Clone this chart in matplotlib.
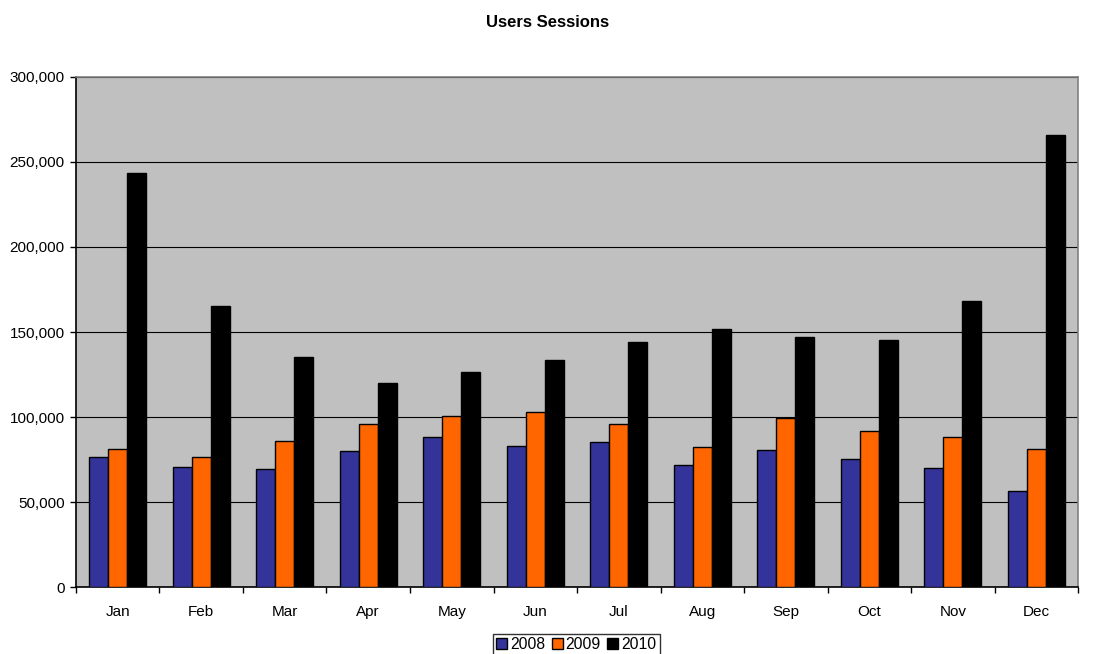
import numpy as np
import matplotlib
matplotlib.use("Agg")
import matplotlib.pyplot as plt
from matplotlib.ticker import FuncFormatter, MultipleLocator

# Data
months = ["Jan", "Feb", "Mar", "Apr", "May", "Jun", "Jul", "Aug", "Sep", "Oct", "Nov", "Dec"]
years = ["2008", "2009", "2010"]
sessions_2008 = [76500, 70600, 69400, 80000, 88200, 82900, 85300, 71800, 80600, 75100, 70000, 56700]
sessions_2009 = [81200, 76500, 85900, 95900, 100600, 102900, 95900, 82400, 99400, 91800, 88400, 81000]
sessions_2010 = [243500, 165300, 135300, 120000, 126500, 133500, 144100, 151800, 147100, 145300, 168000, 265800]
colors = ["#333399", "#FF6600", "#000000"]

plt.rcParams["font.family"] = ["Liberation Sans", "DejaVu Sans"]

fig = plt.figure(figsize=(11.19, 6.54), dpi=100)
ax = fig.add_axes([0.0679, 0.1024, 0.8955, 0.7799])
ax.set_facecolor("#C0C0C0")

x = np.arange(len(months))
width = 0.228
series = [sessions_2008, sessions_2009, sessions_2010]
for i, (vals, col, yr) in enumerate(zip(series, colors, years)):
    ax.bar(x + (i - 1) * width, vals, width, color=col, edgecolor="black",
           linewidth=1, label=yr, zorder=3)

# axes and grid
ax.set_xlim(-0.5, len(months) - 0.5)
ax.set_ylim(0, 300000)
ax.yaxis.set_major_locator(MultipleLocator(50000))
ax.yaxis.set_major_formatter(FuncFormatter(lambda v, p: f"{int(v):,}"))
ax.grid(axis="y", color="black", linewidth=0.8, zorder=1)
for s in ax.spines.values():
    s.set_color("#808080")
    s.set_linewidth(1.2)
ax.spines["left"].set_color("black")
ax.spines["bottom"].set_color("black")

ax.set_xticks(x)
ax.set_xticklabels(months)
ax.set_xticks(np.arange(len(months) + 1) - 0.5, minor=True)
ax.tick_params(axis="x", which="major", length=0, pad=13, labelsize=11)
ax.tick_params(axis="x", which="minor", length=4, width=1, direction="out")
ax.tick_params(axis="y", length=4, width=1, direction="out", pad=4, labelsize=11)

fig.text(0.489, 0.966, "Users Sessions", ha="center", va="center",
         fontsize=12, fontweight="bold")

leg = fig.legend(loc="upper center", bbox_to_anchor=(0.515, 0.0306), ncol=3,
                 frameon=True, fancybox=False, edgecolor="black", fontsize=11.3,
                 handlelength=0.7, handleheight=0.7, handletextpad=0.2,
                 columnspacing=0.4, borderpad=0.2, borderaxespad=0)
leg.get_frame().set_linewidth(1)

fig.savefig("out.png", dpi=100)
